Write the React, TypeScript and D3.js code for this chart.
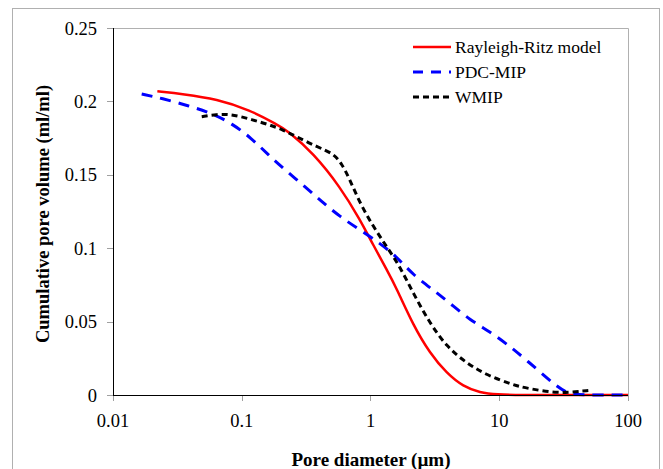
import * as d3 from "d3";

// Rayleigh-Ritz model (solid red)
const rrX = [0.0221, 0.0352, 0.0639, 0.116, 0.187, 0.23, 0.36, 0.58, 0.829, 1.052, 1.336, 1.597, 2.148, 2.897, 3.906, 5.26, 7.08, 9.55, 15, 30, 60, 100];
const rrY = [0.2069, 0.205, 0.2016, 0.1941, 0.1844, 0.1798, 0.1646, 0.1419, 0.1195, 0.102, 0.0855, 0.0725, 0.0475, 0.0284, 0.0148, 0.0057, 0.0016, 0.0003, 0, 0, 0, 0];

// PDC-MIP (blue, long dashes)
const pdcX = [0.0167, 0.0239, 0.0385, 0.0584, 0.0836, 0.119, 0.161, 0.217, 0.31, 0.418, 0.58, 0.829, 1.186, 1.597, 2.148, 3.076, 4.14, 5.93, 8.47, 11.75, 16.3, 27.9, 35.4, 60, 100];
const pdcY = [0.205, 0.2021, 0.1971, 0.1919, 0.1851, 0.1749, 0.1635, 0.1533, 0.1419, 0.1317, 0.1215, 0.1124, 0.1033, 0.0942, 0.0817, 0.0715, 0.0625, 0.0511, 0.0431, 0.034, 0.0238, 0.0057, 0, 0, 0];

// WMIP (black, short dashes)
const wmipX = [0.0489, 0.0639, 0.081, 0.103, 0.131, 0.166, 0.21, 0.267, 0.382, 0.514, 0.597, 0.693, 0.829, 1.052, 1.336, 1.694, 2.148, 2.897, 3.906, 5.59, 8.0, 12.85, 16.3, 27.9, 39.9, 49.2];
const wmipY = [0.1896, 0.1912, 0.1912, 0.1892, 0.1866, 0.1839, 0.1805, 0.176, 0.1691, 0.1646, 0.1578, 0.1465, 0.1306, 0.1147, 0.101, 0.0874, 0.0693, 0.0488, 0.0329, 0.0216, 0.0136, 0.0068, 0.0046, 0.0012, 0.0023, 0.003];

const xTicks = [0.01, 0.1, 1, 10, 100];
const yTicks = [0, 0.05, 0.1, 0.15, 0.2, 0.25];

const series = [
  { name: "Rayleigh-Ritz model", xs: rrX, ys: rrY, color: "#ff0000", dash: "none", w: 2.5 },
  { name: "PDC-MIP", xs: pdcX, ys: pdcY, color: "#0000ff", dash: "11,8", w: 3 },
  { name: "WMIP", xs: wmipX, ys: wmipY, color: "#000000", dash: "6,4", w: 3 },
];

const legendDash = ["none", "10,8", "6,4"];

export default function App() {
  const width = 663;
  const height = 469;
  const left = 113;
  const right = 628;
  const top = 28;
  const bottom = 395;

  const x = d3.scaleLog().domain([0.01, 100]).range([left, right]);
  const y = d3.scaleLinear().domain([0, 0.25]).range([bottom, top]);

  // basis curve smooths out reading noise
  const line = d3
    .line<[number, number]>()
    .x((d) => x(d[0]))
    .y((d) => y(d[1]))
    .curve(d3.curveBasis);

  const font = "'Liberation Serif', 'Times New Roman', serif";

  return (
    <svg
      width={width}
      height={height}
      style={{ position: "absolute", left: 0, top: 0, background: "#fff" }}
      fontFamily={font}
    >
      {/* outer frame */}
      <rect x={12.5} y={8.5} width={647} height={470} fill="#fff" stroke="#b0b0b0" strokeWidth={1} />

      {/* plot area frame top/right */}
      <path d={`M${left},${top + 0.5}H${right + 0.5}V${bottom}`} fill="none" stroke="#b0b0b0" />

      {/* y ticks */}
      {yTicks.map((t) => (
        <g key={"y" + t}>
          <line x1={left - 6} x2={left} y1={Math.round(y(t)) + 0.5} y2={Math.round(y(t)) + 0.5} stroke="#a0a0a0" />
          <text x={left - 16} y={y(t) + 6.5} textAnchor="end" fontSize={18.5}>
            {t === 0 ? "0" : String(t)}
          </text>
        </g>
      ))}

      {/* x ticks */}
      {xTicks.map((t) => (
        <g key={"x" + t}>
          <line x1={Math.round(x(t)) + 0.5} x2={Math.round(x(t)) + 0.5} y1={bottom} y2={bottom + 6} stroke="#a0a0a0" />
          <text x={x(t)} y={bottom + 32} textAnchor="middle" fontSize={18.5}>
            {String(t)}
          </text>
        </g>
      ))}

      {/* series */}
      {series.map((s) => (
        <path
          key={s.name}
          d={line(s.xs.map((v, i) => [v, s.ys[i]] as [number, number])) || ""}
          fill="none"
          stroke={s.color}
          strokeWidth={s.w}
          strokeDasharray={s.dash}
        />
      ))}

      {/* axes */}
      <line x1={left + 0.5} x2={left + 0.5} y1={top} y2={bottom} stroke="#000" />
      <line x1={left} x2={right} y1={bottom + 0.5} y2={bottom + 0.5} stroke="#000" />

      {/* legend */}
      {series.map((s, i) => (
        <g key={"l" + s.name} transform={`translate(413,${47 + i * 25})`}>
          <line x1={0} x2={38} y1={0} y2={0} stroke={s.color} strokeWidth={s.w} strokeDasharray={legendDash[i]} />
          <text x={42} y={6} fontSize={17.5}>
            {s.name}
          </text>
        </g>
      ))}

      {/* axis titles */}
      <text x={371} y={466} textAnchor="middle" fontSize={19} fontWeight="bold">
        Pore diameter (µm)
      </text>
      <text
        transform={`translate(49,${214}) rotate(-90)`}
        textAnchor="middle"
        fontSize={18.5}
        fontWeight="bold"
      >
        Cumulative pore volume (ml/ml)
      </text>
    </svg>
  );
}
